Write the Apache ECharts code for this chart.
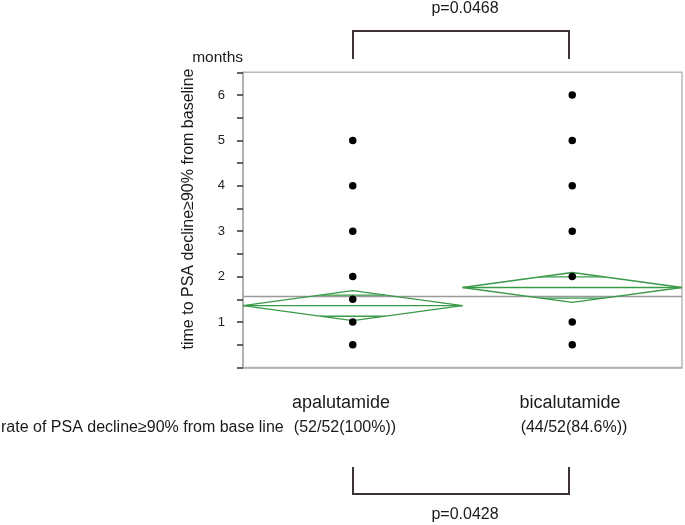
<!DOCTYPE html>
<html>
<head>
<meta charset="utf-8">
<script src="https://cdn.jsdelivr.net/npm/echarts@6/dist/echarts.min.js"></script>
<style>html,body{margin:0;padding:0;background:#fff;}#c{width:685px;height:525px;}</style>
</head>
<body>
<div id="c"></div>
<script>
// ---- data ----
const categories = ['apalutamide', 'bicalutamide'];
const apalutamideValues = [5, 4, 3, 2, 1.5, 1, 0.5];
const bicalutamideValues = [6, 5, 4, 3, 2, 1, 0.5];
const groupMeans = [1.36, 1.76];
const ciLower = [1.03, 1.43];
const ciUpper = [1.69, 2.09];
const grandMean = 1.56;
const yTickLabels = [1, 2, 3, 4, 5, 6];
const rateLabels = ['(52/52(100%))', '(44/52(84.6%))'];
const rateTitle = 'rate of PSA decline\u226590% from base line';
const pValues = ['p=0.0468', 'p=0.0428'];
const yTitle = 'time to PSA decline\u226590% from baseline';
const yUnit = 'months';

const GREEN = '#3a9a48';
const FONT = '"Liberation Sans", Arial, Helvetica, sans-serif';
const groupValues = [apalutamideValues, bicalutamideValues];

const series = [];
// grand mean line
series.push({
  type: 'line', data: [[0, grandMean], [categories.length, grandMean]],
  symbol: 'none', lineStyle: { color: '#9a9a9a', width: 1.5 }, z: 2, silent: true
});
// diamonds
groupMeans.forEach((m, i) => {
  const u = ciUpper[i], l = ciLower[i];
  const c = i + 0.5;
  const ls = { color: GREEN, width: 1.3 };
  series.push({ type: 'line', symbol: 'none', z: 3, silent: true, lineStyle: ls,
    data: [[i, m], [c, u], [i + 1, m], [c, l], [i, m]] });
  series.push({ type: 'line', symbol: 'none', z: 3, silent: true, lineStyle: ls,
    data: [[i, m], [i + 1, m]] });
  const hw = 0.5 * (1 - 1 / Math.SQRT2);
  const ou = m + (u - m) / Math.SQRT2;
  const ol = m - (m - l) / Math.SQRT2;
  series.push({ type: 'line', symbol: 'none', z: 3, silent: true, lineStyle: ls,
    data: [[c - hw, ou], [c + hw, ou]] });
  series.push({ type: 'line', symbol: 'none', z: 3, silent: true, lineStyle: ls,
    data: [[c - hw, ol], [c + hw, ol]] });
});
// points
groupValues.forEach((vals, i) => {
  series.push({
    type: 'scatter', symbolSize: 7.5, z: 5,
    itemStyle: { color: '#000', opacity: 1 },
    data: vals.map(v => [i + 0.5, v])
  });
});

const chart = echarts.init(document.getElementById('c'), null, { renderer: 'canvas' });

const bracketStyle = { stroke: '#3d3533', lineWidth: 2, fill: null };
const textStyle = (t, x, y, size, align) => ({
  type: 'text', x: x, y: y,
  style: { text: t, font: size + 'px ' + FONT, fill: '#1a1a1a', textAlign: align || 'center', textVerticalAlign: 'middle' }
});

chart.setOption({
  animation: false,
  grid: { left: 243, right: 3, top: 72.3, bottom: 157.6, show: true, borderColor: '#b8b8b8', borderWidth: 1.5, backgroundColor: 'transparent' },
  xAxis: {
    type: 'value', min: 0, max: categories.length,
    axisLine: { show: true, lineStyle: { color: '#b0b0b0', width: 1.5 } },
    axisTick: { show: false }, axisLabel: { show: false }, splitLine: { show: false }
  },
  yAxis: {
    type: 'value', min: 0, max: 6.5, interval: 0.5,
    axisLine: { show: true, lineStyle: { color: '#a8a8a8', width: 1.5 } },
    axisTick: { show: true, length: 6, lineStyle: { color: '#333', width: 1.5 } },
    axisLabel: {
      margin: 18, color: '#222', fontSize: 13, fontFamily: FONT,
      formatter: v => (yTickLabels.indexOf(v) >= 0 ? String(v) : '')
    },
    splitLine: { show: false }
  },
  series: series,
  graphic: [
    textStyle(yUnit, 243, 58, 15.5, 'right'),
    {
      type: 'text', x: 189, y: 209, rotation: Math.PI / 2,
      style: { text: yTitle, font: '16px ' + FONT, fill: '#1a1a1a', textAlign: 'center', textVerticalAlign: 'middle' }
    },
    textStyle(categories[0], 341, 403, 18),
    textStyle(categories[1], 570, 403, 18),
    textStyle(rateLabels[0], 345, 428, 16),
    textStyle(rateLabels[1], 574, 428, 16),
    textStyle(rateTitle, 1, 428, 16, 'left'),
    textStyle(pValues[0], 465, 9, 16),
    textStyle(pValues[1], 465, 515, 16),
    { type: 'polyline', shape: { points: [[353, 59], [353, 31], [569, 31], [569, 59]] }, style: bracketStyle },
    { type: 'polyline', shape: { points: [[353, 467], [353, 494], [569, 494], [569, 467]] }, style: bracketStyle }
  ]
});
</script>
</body>
</html>
